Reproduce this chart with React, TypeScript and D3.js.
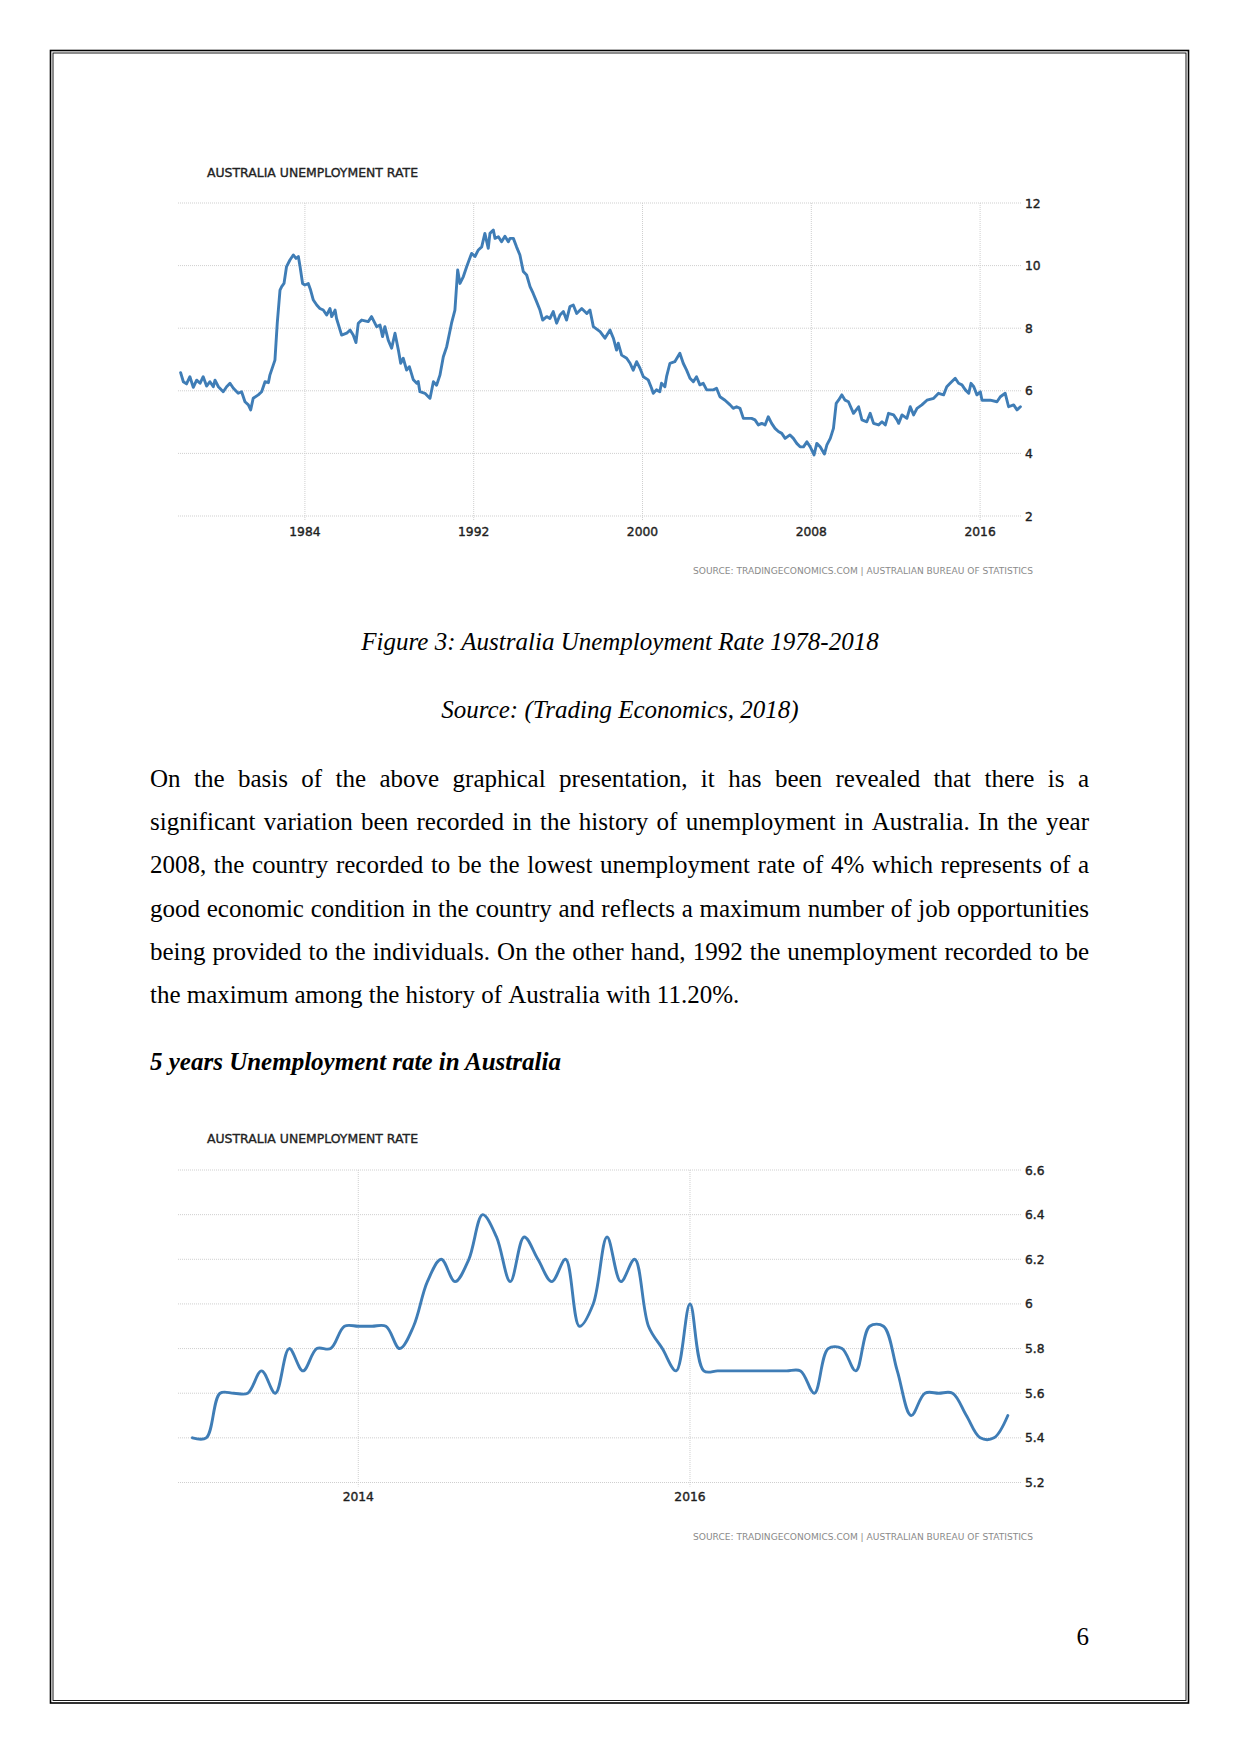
import React, { useMemo } from "react";
import * as d3 from "d3";

// ---------- Chart 1: Australia unemployment rate 1978-2018 ----------
const longYears = [
  1978.11, 1978.24, 1978.39, 1978.55, 1978.71, 1978.87, 1979.03, 1979.18, 1979.34, 1979.5,
  1979.66, 1979.74, 1979.9, 1980.13, 1980.29, 1980.45, 1980.61, 1980.84, 1981.0, 1981.16,
  1981.32, 1981.43, 1981.55, 1981.79, 1981.95, 1982.11, 1982.27, 1982.34, 1982.5, 1982.58,
  1982.69, 1982.82, 1982.9, 1983.01, 1983.13, 1983.29, 1983.45, 1983.58, 1983.69, 1983.77,
  1983.89, 1984.0, 1984.16, 1984.27, 1984.4, 1984.56, 1984.71, 1984.87, 1985.03, 1985.19,
  1985.27, 1985.43, 1985.5, 1985.74, 1985.98, 1986.14, 1986.29, 1986.42, 1986.53, 1986.69,
  1987.0, 1987.16, 1987.4, 1987.56, 1987.68, 1987.79, 1987.95, 1988.11, 1988.27, 1988.43,
  1988.54, 1988.66, 1988.82, 1988.95, 1989.14, 1989.3, 1989.37, 1989.45, 1989.69, 1989.85,
  1989.93, 1990.09, 1990.24, 1990.4, 1990.56, 1990.72, 1990.95, 1991.11, 1991.24, 1991.35,
  1991.51, 1991.67, 1991.9, 1992.06, 1992.22, 1992.38, 1992.53, 1992.69, 1992.77, 1992.93,
  1993.01, 1993.17, 1993.32, 1993.48, 1993.64, 1993.72, 1993.88, 1994.03, 1994.19, 1994.35,
  1994.51, 1994.67, 1994.82, 1994.98, 1995.14, 1995.27, 1995.46, 1995.61, 1995.77, 1995.93,
  1996.09, 1996.25, 1996.4, 1996.56, 1996.72, 1996.88, 1997.12, 1997.36, 1997.51, 1997.67,
  1997.99, 1998.22, 1998.46, 1998.62, 1998.77, 1998.85, 1999.01, 1999.25, 1999.41, 1999.56,
  1999.72, 1999.88, 2000.04, 2000.27, 2000.43, 2000.51, 2000.66, 2000.82, 2000.9, 2001.06,
  2001.14, 2001.3, 2001.53, 2001.77, 2001.93, 2002.09, 2002.25, 2002.41, 2002.56, 2002.72,
  2002.88, 2003.04, 2003.36, 2003.51, 2003.67, 2003.91, 2004.15, 2004.3, 2004.46, 2004.62,
  2004.78, 2005.02, 2005.17, 2005.33, 2005.49, 2005.65, 2005.81, 2005.96, 2006.12, 2006.28,
  2006.44, 2006.6, 2006.76, 2006.99, 2007.15, 2007.31, 2007.47, 2007.63, 2007.79, 2007.95,
  2008.13, 2008.26, 2008.42, 2008.62, 2008.74, 2008.9, 2009.05, 2009.18, 2009.29, 2009.45,
  2009.6, 2009.76, 2010.0, 2010.24, 2010.4, 2010.63, 2010.79, 2010.95, 2011.19, 2011.35,
  2011.51, 2011.66, 2011.9, 2012.06, 2012.14, 2012.3, 2012.53, 2012.69, 2012.85, 2013.01,
  2013.24, 2013.48, 2013.8, 2014.03, 2014.27, 2014.42, 2014.58, 2014.82, 2014.98, 2015.14,
  2015.3, 2015.46, 2015.57, 2015.7, 2015.85, 2016.01, 2016.09, 2016.48, 2016.8, 2016.96,
  2017.19, 2017.35, 2017.59, 2017.75, 2017.91,
];
const longRates = [
  6.58, 6.29, 6.22, 6.45, 6.11, 6.34, 6.24, 6.45, 6.15, 6.29,
  6.13, 6.34, 6.13, 5.97, 6.13, 6.24, 6.08, 5.92, 5.97, 5.65,
  5.55, 5.39, 5.76, 5.87, 5.97, 6.29, 6.26, 6.5, 6.82, 6.98,
  8.16, 9.22, 9.33, 9.43, 9.97, 10.18, 10.34, 10.23, 10.29, 9.97,
  9.43, 9.38, 9.43, 9.22, 8.9, 8.74, 8.63, 8.58, 8.42, 8.63,
  8.37, 8.58, 8.31, 7.78, 7.84, 7.94, 7.78, 7.54, 8.16, 8.26,
  8.21, 8.37, 8.05, 8.1, 7.73, 8.05, 7.62, 7.36, 7.84, 7.3,
  6.88, 7.04, 6.66, 6.77, 6.35, 6.24, 6.3, 5.97, 5.92, 5.81,
  5.76, 6.29, 6.18, 6.5, 7.09, 7.41, 8.16, 8.58, 9.86, 9.43,
  9.65, 9.97, 10.39, 10.29, 10.5, 10.6, 11.03, 10.55, 11.03, 11.14,
  10.87, 10.92, 10.76, 10.94, 10.76, 10.87, 10.87, 10.6, 10.34, 9.81,
  9.7, 9.33, 9.11, 8.85, 8.58, 8.26, 8.37, 8.31, 8.53, 8.16,
  8.42, 8.53, 8.26, 8.69, 8.74, 8.47, 8.63, 8.47, 8.58, 8.05,
  7.89, 7.68, 7.94, 7.68, 7.3, 7.52, 7.14, 7.04, 6.88, 6.66,
  6.93, 6.72, 6.45, 6.35, 6.08, 5.92, 6.03, 5.97, 6.24, 6.13,
  6.45, 6.88, 6.93, 7.2, 6.88, 6.66, 6.4, 6.29, 6.45, 6.19,
  6.24, 6.03, 6.03, 6.08, 5.81, 5.7, 5.55, 5.44, 5.49, 5.44,
  5.12, 5.12, 5.12, 5.07, 4.91, 4.96, 4.91, 5.17, 4.96, 4.8,
  4.7, 4.64, 4.48, 4.59, 4.48, 4.32, 4.21, 4.21, 4.37, 4.21,
  3.95, 4.32, 4.21, 3.98, 4.27, 4.48, 4.8, 5.6, 5.7, 5.87,
  5.7, 5.65, 5.28, 5.49, 5.07, 5.01, 5.28, 4.96, 4.91, 5.01,
  4.91, 5.28, 5.23, 5.07, 4.96, 5.23, 5.12, 5.49, 5.23, 5.44,
  5.55, 5.7, 5.76, 5.92, 5.87, 6.13, 6.24, 6.4, 6.24, 6.19,
  6.03, 5.92, 6.24, 6.13, 5.87, 5.97, 5.7, 5.7, 5.65, 5.81,
  5.92, 5.49, 5.55, 5.39, 5.49,
];
const longXTicks = [1984, 1992, 2000, 2008, 2016];
const longYTicks = [2, 4, 6, 8, 10, 12];

// ---------- Chart 2: monthly rate Jan 2013 - Dec 2017 ----------
const shortStartYear = 2013;
const shortRates = [
  5.4, 5.4, 5.6, 5.6, 5.6, 5.7, 5.6, 5.8, 5.7, 5.8, 5.8, 5.9,
  5.9, 5.9, 5.9, 5.8, 5.9, 6.1, 6.2, 6.1, 6.2, 6.4, 6.3, 6.1,
  6.3, 6.2, 6.1, 6.2, 5.9, 6.0, 6.3, 6.1, 6.2, 5.9, 5.8, 5.7,
  6.0, 5.7, 5.7, 5.7, 5.7, 5.7, 5.7, 5.7, 5.7, 5.6, 5.8, 5.8,
  5.7, 5.9, 5.9, 5.7, 5.5, 5.6, 5.6, 5.6, 5.5, 5.4, 5.4, 5.5,
];
const shortXTicks = [2014, 2016];
const shortYTicks = [5.2, 5.4, 5.6, 5.8, 6, 6.2, 6.4, 6.6];

const chartTitle = "AUSTRALIA UNEMPLOYMENT RATE";
const chartSource = "SOURCE: TRADINGECONOMICS.COM | AUSTRALIAN BUREAU OF STATISTICS";

const paragraphLines = [
  "On the basis of the above graphical presentation, it has been revealed that there is a",
  "significant variation been recorded in the history of unemployment in Australia. In the year",
  "2008, the country recorded to be the lowest unemployment rate of 4% which represents of a",
  "good economic condition in the country and reflects a maximum number of job opportunities",
  "being provided to the individuals. On the other hand, 1992 the unemployment recorded to be",
  "the maximum among the history of Australia with 11.20%.",
];

const LINE_COLOR = "#3f7db6";
const GRID_COLOR = "#cfcfcf";
const CHART_FONT = "'DejaVu Sans', Verdana, sans-serif";
const SERIF = "'Liberation Serif', 'Times New Roman', serif";

type ChartProps = {
  xScale: d3.ScaleLinear<number, number>;
  yScale: d3.ScaleLinear<number, number>;
  xTicks: number[];
  yTicks: number[];
  path: string;
  titleY: number;
  sourceY: number;
  xLabelY: number;
  gridLeft: number;
  gridRight: number;
};

function ChartFrame(p: ChartProps) {
  const yTop = p.yScale(d3.max(p.yTicks) as number);
  const yBot = p.yScale(d3.min(p.yTicks) as number);
  return (
    <g>
      <text x={207} y={p.titleY} fontFamily={CHART_FONT} fontSize={12.3} fill="#222"
        stroke="#222" strokeWidth={0.35}
        textLength={211} lengthAdjust="spacingAndGlyphs">{chartTitle}</text>
      {p.yTicks.map((t) => (
        <g key={"y" + t}>
          <line x1={p.gridLeft} x2={p.gridRight} y1={p.yScale(t)} y2={p.yScale(t)}
            stroke={GRID_COLOR} strokeWidth={1} strokeDasharray="1,1" />
          <text x={1025} y={p.yScale(t) + 4.5} fontFamily={CHART_FONT} fontSize={12.3}
            fill="#1e1e1e" stroke="#1e1e1e" strokeWidth={0.4}>{String(t)}</text>
        </g>
      ))}
      {p.xTicks.map((t) => (
        <g key={"x" + t}>
          <line x1={p.xScale(t)} x2={p.xScale(t)} y1={yTop} y2={yBot + 4}
            stroke={GRID_COLOR} strokeWidth={1} strokeDasharray="1,1" />
          <text x={p.xScale(t)} y={p.xLabelY} textAnchor="middle" fontFamily={CHART_FONT} fontSize={12.3}
            fill="#1e1e1e" stroke="#1e1e1e" strokeWidth={0.4}>{String(t)}</text>
        </g>
      ))}
      <path d={p.path} fill="none" stroke={LINE_COLOR} strokeWidth={2.9} strokeLinejoin="round" strokeLinecap="round" />
      <text x={693} y={p.sourceY} fontFamily={CHART_FONT} fontSize={9} fill="#8a8a8a"
        textLength={340} lengthAdjust="spacingAndGlyphs">{chartSource}</text>
    </g>
  );
}

function JustifiedParagraph() {
  const left = 150;
  const right = 1089;
  const fontSize = 25;
  const words = useMemo(() => {
    const ctx = document.createElement("canvas").getContext("2d")!;
    ctx.font = `${fontSize}px 'Liberation Serif'`;
    return paragraphLines.map((line, li) => {
      const ws = line.split(" ");
      const widths = ws.map((w) => ctx.measureText(w).width);
      const total = widths.reduce((a, b) => a + b, 0);
      const isLast = li === paragraphLines.length - 1;
      const gap = isLast ? ctx.measureText(" ").width : (right - left - total) / (ws.length - 1);
      let x = left;
      return ws.map((w, i) => {
        const item = { w, x };
        x += widths[i] + gap;
        return item;
      });
    });
  }, []);
  return (
    <g fontFamily={SERIF} fontSize={fontSize} fill="#000">
      {words.map((line, li) =>
        line.map((it, wi) => (
          <text key={li + "-" + wi} x={it.x} y={787 + li * 43.2}>{it.w}</text>
        ))
      )}
    </g>
  );
}

export default function App() {
  // Chart 1 scales
  const x1 = d3.scaleLinear().domain([1978, 2018]).range([178.3, 1022.3]);
  const y1 = d3.scaleLinear().domain([2, 12]).range([516, 203]);
  const line1 = d3
    .line<number>()
    .x((_, i) => x1(longYears[i]))
    .y((d) => y1(d))
    .curve(d3.curveLinear);
  const path1 = line1(longRates) || "";

  // Chart 2 scales
  const x2 = d3.scaleLinear().domain([2012.913, 2017.996]).range([178, 1021]);
  const y2 = d3.scaleLinear().domain([5.2, 6.6]).range([1482.5, 1170]);
  const line2 = d3
    .line<number>()
    .x((_, i) => x2(shortStartYear + i / 12))
    .y((d) => y2(d))
    .curve(d3.curveCatmullRom.alpha(0.5));
  const path2 = line2(shortRates) || "";

  return (
    <svg width={1241} height={1754} viewBox="0 0 1241 1754"
      style={{ position: "absolute", left: 0, top: 0, display: "block", background: "#fff" }}>
      <rect x={0} y={0} width={1241} height={1754} fill="#fff" />
      {/* page double border */}
      <rect x={50.5} y={50.5} width={1138} height={1652.5} fill="none" stroke="#000" strokeWidth={1.6} />
      <rect x={53} y={53} width={1133} height={1647.5} fill="none" stroke="#000" strokeWidth={0.9} />

      <ChartFrame xScale={x1} yScale={y1} xTicks={longXTicks} yTicks={longYTicks} path={path1}
        titleY={176.5} sourceY={574} xLabelY={536} gridLeft={178} gridRight={1021} />

      <text x={620} y={650} textAnchor="middle" fontFamily={SERIF} fontStyle="italic" fontSize={25}>
        Figure 3: Australia Unemployment Rate 1978-2018
      </text>
      <text x={620} y={718} textAnchor="middle" fontFamily={SERIF} fontStyle="italic" fontSize={25}>
        Source: (Trading Economics, 2018)
      </text>

      <JustifiedParagraph />

      <text x={150} y={1070} fontFamily={SERIF} fontStyle="italic" fontWeight="bold" fontSize={25}>
        5 years Unemployment rate in Australia
      </text>

      <ChartFrame xScale={x2} yScale={y2} xTicks={shortXTicks} yTicks={shortYTicks} path={path2}
        titleY={1142.5} sourceY={1539.5} xLabelY={1501} gridLeft={178} gridRight={1021} />

      <text x={1089} y={1645} textAnchor="end" fontFamily={SERIF} fontSize={25}>6</text>
    </svg>
  );
}
